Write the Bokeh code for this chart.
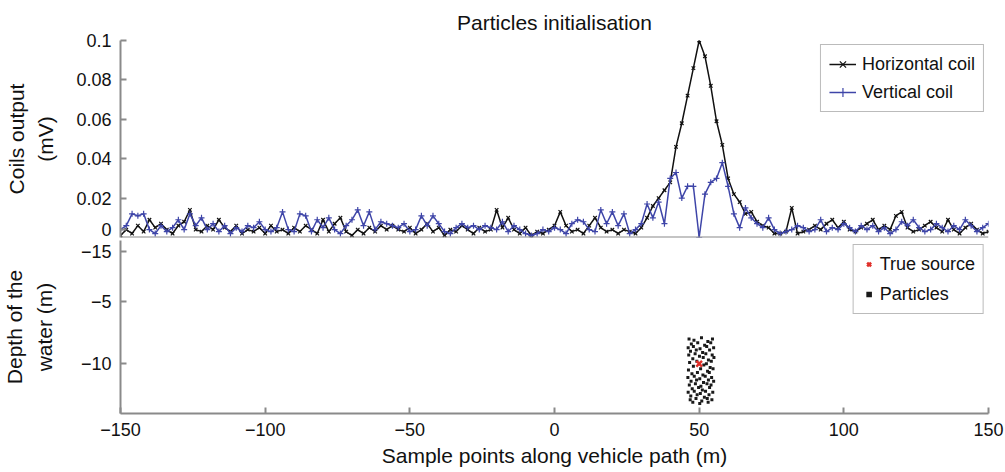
from bokeh.plotting import figure
from bokeh.layouts import column
from bokeh.models import Range1d, FixedTicker, Legend, LegendItem, Span
from bokeh.embed import file_html
from bokeh.resources import INLINE

FONT = "Liberation Sans"

# ---------------- data ----------------
title_text = "Particles initialisation"
sample_x = list(range(-150, 151, 2))

horizontal_coil = [
    0.001, 0.004, 0.002, 0.006, 0.003, 0.009, 0.005, 0.007, 0.004, 0.002,   # -150..-132
    0.006, 0.008, 0.014, 0.004, 0.003, 0.006, 0.004, 0.009, 0.005, 0.003,   # -130..-112
    0.006, 0.002, 0.004, 0.003, 0.005, 0.002, 0.006, 0.003, 0.004, 0.002,   # -110..-92
    0.005, 0.003, 0.006, 0.004, 0.002, 0.009, 0.003, 0.007, 0.010, 0.003,   # -90..-72
    0.001, 0.004, 0.002, 0.005, 0.003, 0.006, 0.004, 0.006, 0.004, 0.003,   # -70..-52
    0.005, 0.002, 0.004, 0.007, 0.003, 0.005, 0.001, 0.004, 0.003, 0.006,   # -50..-32
    0.004, 0.002, 0.005, 0.003, 0.004, 0.014, 0.005, 0.010, 0.004, 0.002,   # -30..-12
    0.005, 0.001, 0.003, 0.002, 0.004, 0.006, 0.013, 0.006, 0.003, 0.004,   # -10..8
    0.002, 0.006, 0.010, 0.005, 0.003, 0.004, 0.002, 0.004, 0.003, 0.002,   # 10..28
    0.005, 0.010, 0.016, 0.020, 0.024, 0.028, 0.046, 0.058, 0.072, 0.086,   # 30..48
    0.100, 0.092, 0.077, 0.059, 0.047, 0.030, 0.022, 0.018, 0.012, 0.013,   # 50..68
    0.008, 0.006, 0.005, 0.002, 0.002, 0.003, 0.015, 0.002, 0.003, 0.004,   # 70..88
    0.006, 0.004, 0.007, 0.009, 0.005, 0.008, 0.004, 0.003, 0.005, 0.007,   # 90..108
    0.009, 0.004, 0.006, 0.004, 0.011, 0.013, 0.005, 0.003, 0.004, 0.006,   # 110..128
    0.008, 0.005, 0.003, 0.009, 0.004, 0.002, 0.005, 0.007, 0.004, 0.002,   # 130..148
    0.003,                                                                  # 150
]

vertical_coil = [
    0.004, 0.006, 0.012, 0.011, 0.012, 0.004, 0.002, 0.006, 0.003, 0.005,
    0.009, 0.004, 0.012, 0.006, 0.010, 0.004, 0.007, 0.003, 0.006, 0.002,
    0.005, 0.003, 0.006, 0.005, 0.008, 0.004, 0.003, 0.005, 0.013, 0.004,
    0.003, 0.012, 0.011, 0.003, 0.009, 0.005, 0.010, 0.004, 0.002, 0.006,
    0.009, 0.014, 0.006, 0.013, 0.004, 0.008, 0.007, 0.006, 0.005, 0.007,
    0.003, 0.004, 0.011, 0.006, 0.011, 0.007, 0.003, 0.002, 0.005, 0.007,
    0.005, 0.006, 0.004, 0.006, 0.005, 0.004, 0.008, 0.003, 0.006, 0.004,
    0.002, 0.001, 0.002, 0.004, 0.003, 0.005, 0.004, 0.002, 0.007, 0.009,
    0.008, 0.004, 0.003, 0.014, 0.007, 0.013, 0.006, 0.012, 0.002, 0.004,
    0.007, 0.017, 0.010, 0.018, 0.007, 0.030, 0.033, 0.020, 0.026, 0.026,
    0.000, 0.022, 0.028, 0.030, 0.038, 0.026, 0.012, 0.005, 0.015, 0.010,
    0.007, 0.005, 0.010, 0.004, 0.002, 0.003, 0.004, 0.006, 0.005, 0.003,
    0.004, 0.009, 0.003, 0.005, 0.004, 0.007, 0.005, 0.003, 0.006, 0.004,
    0.006, 0.003, 0.005, 0.002, 0.004, 0.008, 0.006, 0.009, 0.005, 0.003,
    0.004, 0.007, 0.005, 0.003, 0.006, 0.004, 0.009, 0.006, 0.003, 0.005,
    0.007,
]

true_source_x = [50]
true_source_y = [-10]

particle_x = [
    46.5, 48.2, 50.8, 53.0, 54.6,
    47.3, 49.5, 51.9, 54.0,
    46.2, 48.0, 50.3, 52.6, 55.0,
    47.0, 49.0, 51.2, 53.6,
    46.4, 48.6, 50.1, 52.3, 54.5,
    47.8, 51.4, 53.2, 55.1,
    46.7, 49.2, 52.5, 54.2,
    48.0, 51.6, 53.8,
    46.3, 50.5, 52.9, 54.8,
    47.5, 49.4, 51.3, 53.5,
    46.1, 48.3, 50.2, 52.1, 54.3,
    47.2, 49.1, 51.5, 53.2, 55.0,
    46.6, 48.7, 50.6, 52.7, 54.1,
    47.6, 49.8, 51.1, 53.6,
    46.2, 48.3, 50.4, 52.2, 54.7,
    47.1, 49.3, 51.8, 53.4,
    46.9, 48.9, 50.9, 52.8, 54.4,
    47.8, 50.2, 53.1,
]
particle_y = [
    -8.0, -8.1, -7.9, -8.2, -8.0,
    -8.4, -8.3, -8.5, -8.3,
    -8.7, -8.6, -8.8, -8.6, -8.7,
    -9.0, -8.9, -9.1, -8.9,
    -9.3, -9.2, -9.4, -9.2, -9.3,
    -9.6, -9.5, -9.7, -9.5,
    -9.9, -9.8, -10.0, -9.8,
    -10.2, -10.1, -10.3,
    -10.5, -10.4, -10.6, -10.4,
    -10.8, -10.7, -10.9, -10.7,
    -11.1, -11.0, -11.2, -11.0, -11.1,
    -11.4, -11.3, -11.5, -11.3, -11.4,
    -11.7, -11.6, -11.8, -11.6, -11.7,
    -12.0, -11.9, -12.1, -11.9,
    -12.3, -12.2, -12.4, -12.2, -12.3,
    -12.6, -12.5, -12.7, -12.5,
    -12.9, -12.8, -13.0, -12.8, -12.9,
    -13.1, -13.2, -13.1,
]

x_ticks = [-150, -100, -50, 0, 50, 100, 150]
x_tick_labels = ["\u2212150", "\u2212100", "\u221250", "0", "50", "100", "150"]
top_y_ticks = [0.004, 0.02, 0.04, 0.06, 0.08, 0.1]
top_y_tick_labels = ["0", "0.02", "0.04", "0.06", "0.08", "0.1"]
bottom_y_ticks = [-1.0, -5, -10]
bottom_y_tick_labels = ["\u221215", "\u22125", "\u221210"]

AXIS_COLOR = "#8a8a8a"
BLUE = "#3e45a8"


def style_axes(p):
    for ax in p.axis:
        ax.axis_line_color = AXIS_COLOR
        ax.axis_line_width = 2
        ax.major_tick_line_color = AXIS_COLOR
        ax.major_tick_line_width = 2
        ax.major_tick_in = 6
        ax.major_tick_out = 0
        ax.minor_tick_line_color = None
        ax.major_label_text_font = FONT
        ax.major_label_text_font_size = "18px"
        ax.major_label_text_color = "#111111"
        ax.axis_label_text_font = FONT
        ax.axis_label_text_font_size = "21px"
        ax.axis_label_text_font_style = "normal"
        ax.axis_label_text_color = "#111111"
    p.xgrid.grid_line_color = None
    p.ygrid.grid_line_color = None
    p.outline_line_color = None


x_range = Range1d(-150, 150)

# ---------------- top panel ----------------
p1 = figure(width=1005, height=240, x_range=x_range, y_range=Range1d(0, 0.1),
            output_backend="svg", toolbar_location=None,
            min_border_left=117, min_border_right=17, min_border_top=40, min_border_bottom=3)
p1.title.text = title_text
p1.title.align = "center"
p1.title.text_font = FONT
p1.title.text_font_size = "21px"
p1.title.text_font_style = "normal"
p1.title.text_color = "#111111"
p1.title.standoff = 14
style_axes(p1)
p1.xaxis.visible = False
p1.add_layout(Span(location=0, dimension="width", line_color=AXIS_COLOR, line_width=2))
p1.yaxis.ticker = FixedTicker(ticks=top_y_ticks)
p1.yaxis.major_label_overrides = {t: l for t, l in zip(top_y_ticks, top_y_tick_labels)}
p1.yaxis.axis_label = "Coils output\n(mV)"
p1.yaxis.axis_label_text_line_height = 1.3
p1.yaxis.major_label_standoff = 9
p1.yaxis.axis_label_standoff = 16

h_line = p1.line(sample_x, horizontal_coil, line_color="#111111", line_width=1.5)
h_mark = p1.scatter(sample_x, horizontal_coil, marker="x", size=5, line_color="#111111", line_width=1.2)
v_line = p1.line(sample_x, vertical_coil, line_color=BLUE, line_width=1.5)
v_mark = p1.scatter(sample_x, vertical_coil, marker="cross", size=6, line_color=BLUE, line_width=1.2)

leg1 = Legend(items=[LegendItem(label="Horizontal coil", renderers=[h_line, h_mark]),
                     LegendItem(label="Vertical coil", renderers=[v_line, v_mark])],
              location="top_right", margin=4, padding=8, spacing=6,
              glyph_width=27, glyph_height=22, label_standoff=6,
              label_text_font=FONT, label_text_font_size="18px", label_text_color="#111111",
              border_line_color="#777777", border_line_width=1.5,
              background_fill_color="white", background_fill_alpha=1)
p1.add_layout(leg1)

# ---------------- bottom panel ----------------
p2 = figure(width=1005, height=232, x_range=x_range, y_range=Range1d(-14, -0.08),
            output_backend="svg", toolbar_location=None,
            min_border_left=117, min_border_right=17, min_border_top=0, min_border_bottom=59)
style_axes(p2)
p2.xaxis.ticker = FixedTicker(ticks=x_ticks)
p2.xaxis.major_label_overrides = {t: l for t, l in zip(x_ticks, x_tick_labels)}
p2.xaxis.axis_label = "Sample points along vehicle path (m)"
p2.xaxis.major_label_standoff = 9
p2.xaxis.axis_label_standoff = 5
p2.yaxis.ticker = FixedTicker(ticks=bottom_y_ticks)
p2.yaxis.major_label_overrides = {t: l for t, l in zip(bottom_y_ticks, bottom_y_tick_labels)}
p2.yaxis.axis_label = "Depth of the\nwater (m)"
p2.yaxis.axis_label_text_line_height = 1.3
p2.yaxis.major_label_standoff = 9
p2.yaxis.axis_label_standoff = 22

pr = p2.scatter(particle_x, particle_y, marker="square", size=3, fill_color="#1a1a1a", line_color=None)
sr = p2.scatter(true_source_x, true_source_y, marker="x", size=8, line_color="#e0302a", line_width=2.5)

leg2 = Legend(items=[LegendItem(label="True source", renderers=[sr]),
                     LegendItem(label="Particles", renderers=[pr])],
              location="top_right", margin=4, padding=8, spacing=8,
              glyph_width=14, glyph_height=22, label_standoff=4,
              label_text_font=FONT, label_text_font_size="18px", label_text_color="#111111",
              border_line_color="#777777", border_line_width=1.5,
              background_fill_color="white", background_fill_alpha=1)
p2.add_layout(leg2)

layout = column(p1, p2)
open("out.html", "w").write(file_html(layout, INLINE))
